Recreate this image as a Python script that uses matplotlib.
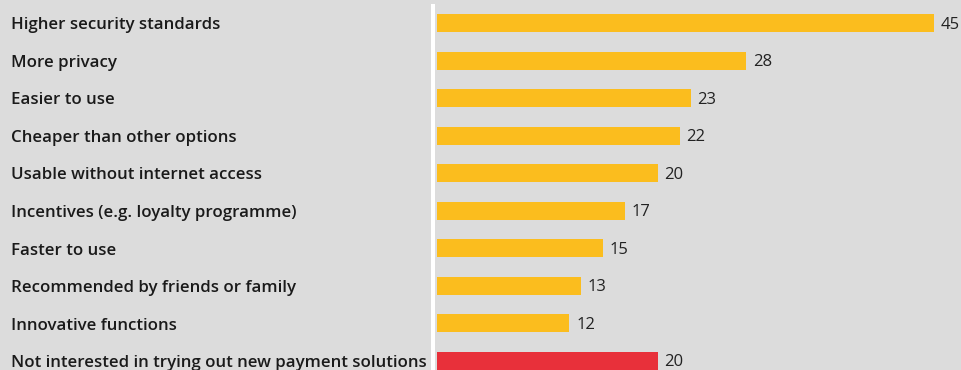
import numpy as np
import matplotlib
matplotlib.use('Agg')
import matplotlib.pyplot as plt
from matplotlib.transforms import blended_transform_factory
from matplotlib.patches import Rectangle

labels = ['Higher security standards', 'More privacy', 'Easier to use',
          'Cheaper than other options', 'Usable without internet access',
          'Incentives (e.g. loyalty programme)', 'Faster to use',
          'Recommended by friends or family', 'Innovative functions',
          'Not interested in trying out new payment solutions']
values = [45, 28, 23, 22, 20, 17, 15, 13, 12, 20]
colors = ['#fbbd1e'] * 9 + ['#e8303a']

plt.rcParams['font.family'] = ['Open Sans', 'DejaVu Sans']

W, H = 961, 370
fig = plt.figure(figsize=(W / 100, H / 100), dpi=100)
fig.patch.set_facecolor('#dcdcdc')
ax = fig.add_axes([437 / W, 0, (W - 437) / W, 1])
ax.set_facecolor('#dcdcdc')

y = np.arange(len(values))
ax.barh(y, values, height=0.48, color=colors)
ax.set_xlim(0, (W - 437) / 11.04)
ax.set_ylim((H - 23) / 37.55, -23 / 37.55)
ax.axis('off')

for yi, v in zip(y, values):
    ax.text(v + 0.6, yi + 0.04, str(v), va='center', ha='left', fontsize=12, color='#222222')

tr = blended_transform_factory(fig.transFigure, ax.transData)
for yi, lab in zip(y, labels):
    ax.text(11 / W, yi + 0.06, lab, transform=tr, va='center', ha='left',
            fontsize=12.2, fontweight='semibold', color='#1a1a1a')

# white separator line
fig.add_artist(Rectangle((431 / W, 0), 4 / W, (H - 4) / H, transform=fig.transFigure,
                         facecolor='white', edgecolor='none'))

fig.savefig('out.png', dpi=100, facecolor=fig.get_facecolor())
